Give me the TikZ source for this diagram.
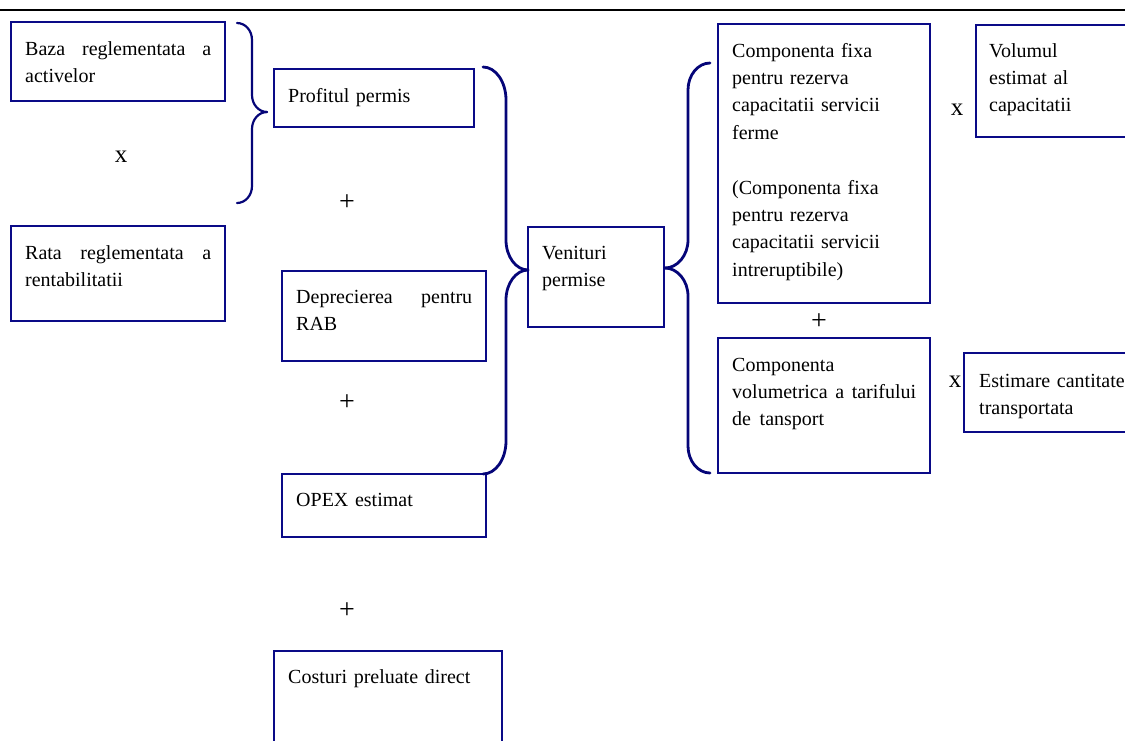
\documentclass[tikz,border=0pt]{standalone}
\usepackage{fontspec}
\setmainfont{Liberation Serif}
\definecolor{boxblue}{RGB}{10,10,135}
\definecolor{braceblue}{RGB}{5,5,120}
\begin{document}
\begin{tikzpicture}[x=1pt,y=-1pt,
  box/.style={draw=boxblue, line width=1.5pt, anchor=north west, inner sep=0pt, outer sep=0pt},
  txt/.style={anchor=base west, inner sep=0pt, font=\fontsize{20}{27.4}\selectfont, align=left, text width=#1},
  txt/.default=230pt,
  curlybr/.style={draw=braceblue, line width=#1, line cap=round},
  curlybr/.default=2.8pt,
  mult/.style={anchor=base, inner sep=0pt, font=\fontsize{25}{25}\selectfont},
  plus/.style={anchor=center, inner sep=0pt, font=\fontsize{28}{28}\selectfont}
]
\useasboundingbox (0,0) rectangle (1125,740);
\clip (0,0) rectangle (1125,740);

% rule at the top of the page
\coordinate (ruleL) at (0,10);
\coordinate (ruleR) at (1125,10);
\draw[line width=2pt] (ruleL) -- (ruleR);

% boxes
\node[box, minimum width=214pt, minimum height=79pt]  (baza)    at (11,22)  {};
\node[box, minimum width=214pt, minimum height=95pt]  (rata)    at (11,226) {};
\node[box, minimum width=200pt, minimum height=58pt]  (profit)  at (274,69) {};
\node[box, minimum width=204pt, minimum height=90pt]  (deprec)  at (282,271) {};
\node[box, minimum width=204pt, minimum height=63pt]  (opex)    at (282,474) {};
\node[box, minimum width=228pt, minimum height=120pt] (costuri) at (274,651) {};
\node[box, minimum width=136pt, minimum height=100pt] (venit)   at (528,227) {};
\node[box, minimum width=212pt, minimum height=279pt] (fixa)    at (718,24) {};
\node[box, minimum width=212pt, minimum height=135pt] (volum)   at (718,338) {};
\node[box, minimum width=180pt, minimum height=112pt] (volest)  at (976,25) {};
\node[box, minimum width=190pt, minimum height=79pt]  (cant)    at (964,353) {};

% texts (justified first lines are spread with \hfill)
\node[txt=186pt] (tbaza)   at (25,55)  {\makebox[186pt][l]{Baza\hfill reglementata\hfill a}\\activelor};
\node[txt=186pt] (trata)   at (25,259) {\makebox[186pt][l]{Rata\hfill reglementata\hfill a}\\rentabilitatii};
\node[txt]       (tprofit) at (288,102) {Profitul permis};
\node[txt=176pt] (tdeprec) at (296,303) {\makebox[176pt][l]{Deprecierea\hfill pentru}\\RAB};
\node[txt]       (topex)   at (296,506) {OPEX estimat};
\node[txt]       (tcost)   at (288,683) {Costuri preluate direct};
\node[txt=120pt] (tvenit)  at (542,259) {Venituri\\permise};
\node[txt=190pt] (tfixa)   at (732,57)  {Componenta fixa\\pentru rezerva\\capacitatii servicii\\ferme\\[27.4pt](Componenta fixa\\pentru rezerva\\capacitatii servicii\\intreruptibile)};
\node[txt=184pt] (tvolum)  at (732,371) {Componenta\\\makebox[184pt][l]{volumetrica\hfill a\hfill tarifului}\\de\hspace{2pt} tansport};
\node[txt=140pt] (tvolest) at (989,57)  {Volumul\\estimat al\\capacitatii};
\node[txt=150pt] (tcant)   at (979,387) {Estimare cantitate\\transportata};

% operators
\node[mult] (x1) at (121,162) {x};
\node[mult] (x2) at (957,115) {x};
\node[mult] (x3) at (955,387) {x};
\node[plus] (p1) at (347,203) {+};
\node[plus] (p2) at (347,403) {+};
\node[plus] (p3) at (347,611) {+};
\node[plus] (p4) at (819,322) {+};

% brace: profit = base x rate
\coordinate (b1top) at (237,23);
\coordinate (b1tip) at (267,112);
\coordinate (b1bot) at (237,203);
\draw[curlybr=2.2pt] (b1top) .. controls (245.3,23) and (252,30.4) .. (252,40) -- (252,95)
  .. controls (252,104.4) and (258.7,112) .. (b1tip);
\draw[curlybr=2.2pt] (b1tip) .. controls (258.7,112) and (252,119.6) .. (252,129) -- (252,186)
  .. controls (252,195.4) and (245.3,203) .. (b1bot);

% brace: allowed revenue = sum of cost items
\coordinate (b2top) at (483,67);
\coordinate (b2tip) at (528,270);
\coordinate (b2bot) at (483,474);
\draw[curlybr] (b2top) .. controls (495.7,67) and (506,81.8) .. (506,100) -- (506,240)
  .. controls (506,256.5) and (515.9,270) .. (b2tip);
\draw[curlybr] (b2tip) .. controls (515.9,270) and (506,283.5) .. (506,300) -- (506,441)
  .. controls (506,459.2) and (495.7,474) .. (b2bot);

% brace: allowed revenue split into tariff components
\coordinate (b3top) at (710,63);
\coordinate (b3tip) at (665,268);
\coordinate (b3bot) at (710,473);
\draw[curlybr] (b3top) .. controls (697.9,63) and (688,75.1) .. (688,90) -- (688,240)
  .. controls (688,255.5) and (677.3,268) .. (b3tip);
\draw[curlybr] (b3tip) .. controls (677.3,268) and (688,280.5) .. (688,296) -- (688,446)
  .. controls (688,460.9) and (697.9,473) .. (b3bot);
\end{tikzpicture}
\end{document}
